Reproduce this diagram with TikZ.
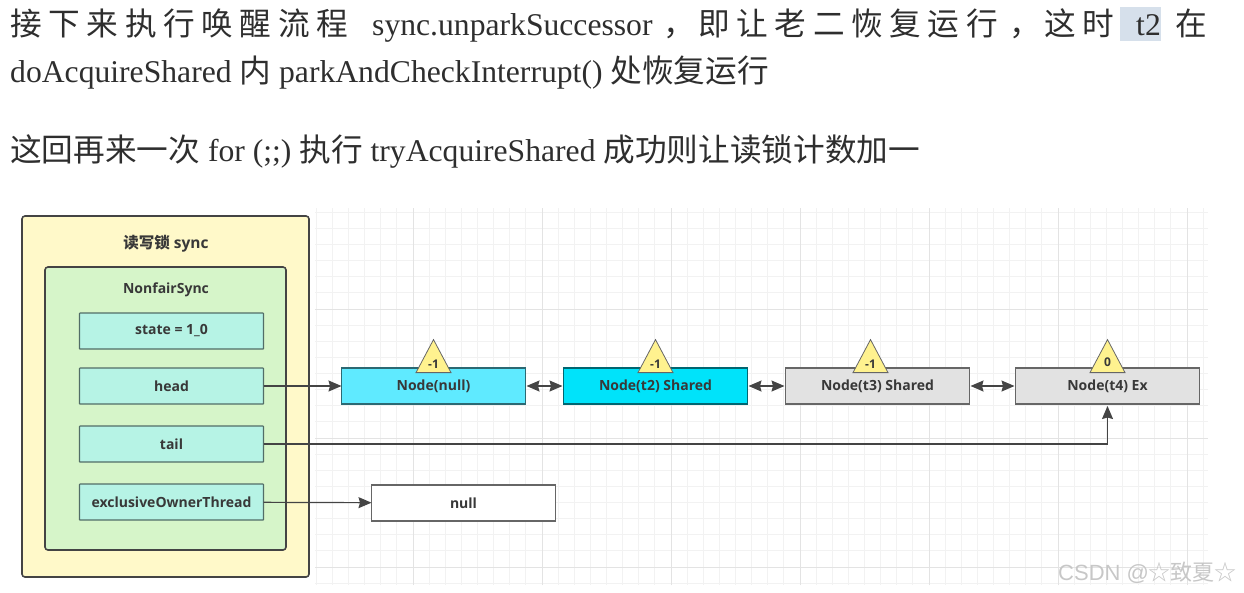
\documentclass[tikz,border=0pt]{standalone}
\usepackage{fontspec}
\usepackage{xcolor}
\usetikzlibrary{arrows.meta,positioning,shapes.geometric}
\setmainfont{Liberation Serif}
\newfontfamily\labelfont{Open Sans}
\newfontfamily\cjkfont{Noto Sans CJK SC}
\newfontfamily\cjkwide[LetterSpace=21]{Noto Sans CJK SC}
\newcommand{\zh}[1]{{\cjkfont #1}}
\newcommand{\zhw}[1]{{\cjkwide #1}}
\definecolor{lockfill}{HTML}{FFF9C9}
\definecolor{syncfill}{HTML}{D6F5C9}
\definecolor{fieldfill}{HTML}{B6F3E5}
\definecolor{headfill}{HTML}{5FEAFF}
\definecolor{sharedfill}{HTML}{00E3FA}
\definecolor{waitfill}{HTML}{E2E2E2}
\definecolor{statusfill}{HTML}{FFF28F}
\definecolor{inkline}{HTML}{444444}
\definecolor{marktext}{HTML}{D6E0EB}

\begin{document}
\begin{tikzpicture}[x=1pt,y=-1pt,
    font=\labelfont\bfseries\fontsize{14}{16}\selectfont,
    text=black!78,
    box/.style={draw=inkline,line width=1.2pt,minimum width=184pt,minimum height=36pt,inner sep=0pt,outer sep=0pt,align=center},
    field/.style={box,fill=fieldfill,draw=black!55!fieldfill,rounded corners=0.6pt},
    qnode/.style={box,fill=waitfill,draw=black!60},
    status/.style={draw=black!60,fill=statusfill,line width=0.8pt,isosceles triangle,isosceles triangle stretches,shape border rotate=90,minimum width=35pt,minimum height=33pt,inner sep=0pt,font=\labelfont\bfseries\fontsize{12}{13}\selectfont},
    link/.style={draw=inkline,line width=1.2pt,-{Stealth[length=13pt,width=11pt,inset=1.5pt]}},
    dlink/.style={draw=inkline,line width=1.2pt,{Stealth[length=13pt,width=11pt,inset=1.5pt]}-{Stealth[length=13pt,width=11pt,inset=1.5pt]},shorten <=1pt,shorten >=1pt},
    body/.style={anchor=base west,inner sep=0pt,text=black!82,font=\rmfamily\fontsize{31.65}{36}\selectfont},
    gridline/.style={draw=black!5,line width=0.8pt},
    gridmajor/.style={draw=black!11,line width=0.8pt}]
  \useasboundingbox (0,0) rectangle (1244,592);

  \node[fill=marktext,minimum width=41pt,minimum height=34pt,inner sep=0pt] (mark) at (1140.5,24) {};
  \node[body] (l1a) at (10,35) {\zhw{接下来执行唤醒流程}};
  \node[body] (l1b) at (372,35) {sync.unparkSuccessor};
  \node[body] (l1c) at (663,35) {\zh{，}};
  \node[body] (l1d) at (698,35) {\zhw{即让老二恢复运行}};
  \node[body] (l1e) at (1009,35) {\zh{，}};
  \node[body] (l1f) at (1044,35) {\zhw{这时}};
  \node[body] (l1g) at (1136,35) {t2};
  \node[body] (l1h) at (1175,35) {\zh{在}};
  \node[body] (l2) at (10,82) {doAcquireShared \zh{内} parkAndCheckInterrupt() \zh{处恢复运行}};
  \node[body] (l3) at (10,161) {\zh{这回再来一次} for (;;) \zh{执行} tryAcquireShared \zh{成功则让读锁计数加一}};

  \begin{scope}[shift={(413,438)}]
    \draw[gridline,step=16.125pt] (-98,-230) grid (795,147);
    \draw[gridmajor,step=129pt] (-98,-230) grid (795,147);
  \end{scope}

  \node[box,fill=lockfill,rounded corners=3pt,line width=1.6pt,minimum width=287pt,minimum height=361pt] (lock) at (165.5,396.5) {};
  \node[box,fill=syncfill,rounded corners=3pt,line width=1.6pt,minimum width=241pt,minimum height=283pt] (sync) at (165.5,408.5) {};
  \node[inner sep=0pt,font=\labelfont\bfseries\fontsize{15.5}{16}\selectfont] (locktitle) at (166,244) {\zh{读写锁} sync};
  \node[inner sep=0pt] (synctitle) at (166,290) {NonfairSync};

  \node[field] (state) at (171.5,331) {state = 1\_0};
  \node[field,below=19pt of state] (head) {head};
  \node[field,below=22pt of head] (tail) {tail};
  \node[field,below=22pt of tail] (owner) {exclusiveOwnerThread};

  \node[qnode,fill=headfill,draw=black!55!headfill] (nnull) at (433.5,386) {Node(null)};
  \node[qnode,fill=sharedfill,draw=black!55!sharedfill,right=38pt of nnull] (t2) {Node(t2) Shared};
  \node[qnode,right=38pt of t2] (t3) {Node(t3) Shared};
  \node[qnode,right=46pt of t3] (t4) {Node(t4) Ex};
  \node[box,fill=white,draw=black!60] (nullv) at (463.5,503) {null};

  \node[status,above=-5pt of nnull] (s1) {-1};
  \node[status,above=-5pt of t2] (s2) {-1};
  \node[status,above=-5pt of t3,xshift=-7pt] (s3) {-1};
  \node[status,above=-5pt of t4] (s4) {0};

  \draw[link] (head) -- (nnull);
  \draw[dlink] (nnull) -- (t2);
  \draw[dlink] (t2) -- (t3);
  \draw[dlink] (t3) -- (t4);
  \draw[link,shorten >=2pt] (tail) -| (t4);
  \draw[link] (owner) -- (nullv);

  \node[anchor=base west,inner sep=0pt,text=black!22,font=\fontspec{Liberation Sans}\fontsize{22}{26}\selectfont] (csdn) at (1058,580) {CSDN @\zh{☆致夏☆}};
\end{tikzpicture}
\end{document}
